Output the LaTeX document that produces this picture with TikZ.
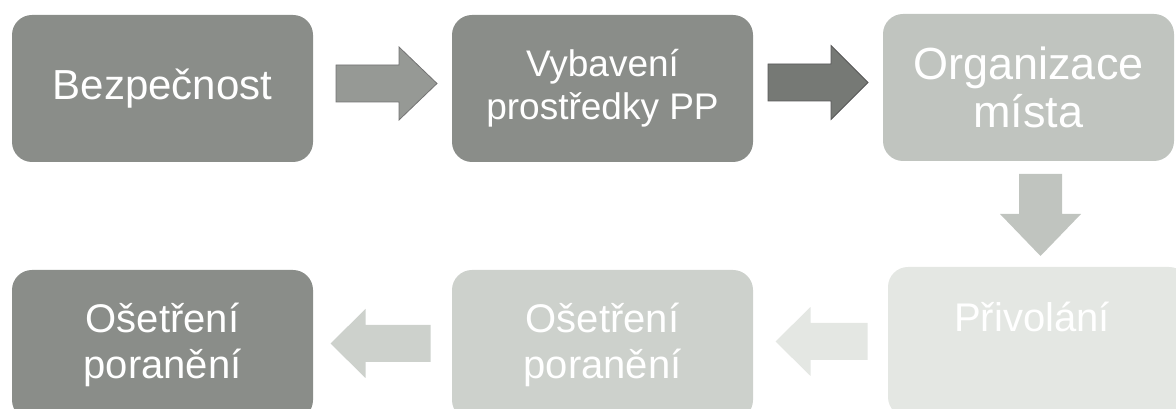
\documentclass[tikz,border=0pt]{standalone}
\usepackage{fontspec}
\setmainfont{Liberation Sans}
\usepackage{xcolor}
\usetikzlibrary{calc}

\definecolor{boxdark}{RGB}{138,141,137}
\definecolor{boxmid}{RGB}{192,196,191}
\definecolor{boxlight}{RGB}{205,209,204}
\definecolor{boxfaint}{RGB}{228,231,227}
\definecolor{arrowone}{RGB}{150,153,149}
\definecolor{arrowtwo}{RGB}{118,121,117}

\begin{document}
\begin{tikzpicture}[
        x=1pt, y=1pt,
        stepbox/.style={rounded corners=20pt, minimum width=301pt, minimum height=147pt, inner sep=0pt, text=white, align=center},
        bigtext/.style={font=\fontsize{42}{48}\selectfont},
        midtext/.style={font=\fontsize{37}{43}\selectfont},
        orgtext/.style={font=\fontsize{45}{48}\selectfont},
        lowtext/.style={font=\fontsize{40}{46}\selectfont},
        blockarrow/.style={line width=0.8pt, line join=miter}
    ]

    \clip (0,0) rectangle (1176,409);

    % ==========================================
    % top row
    % ==========================================
    \node[stepbox, bigtext, fill=boxdark] (bezp) at (162.5, 320.5) {Bezpečnost};
    \node[stepbox, midtext, fill=boxdark] (vyb) at (602.5, 320.5) {Vybavení\\prostředky PP};
    \node[stepbox, orgtext, fill=boxmid, minimum width=291pt] (org) at (1028.5, 321.5) {Organizace\\místa};

    % ==========================================
    % bottom row
    % ==========================================
    \node[stepbox, lowtext, fill=boxdark, minimum height=150pt] (oset_a) at (162.5, 64) {Ošetření\\poranění};
    \node[stepbox, lowtext, fill=boxlight, minimum height=150pt] (oset_b) at (602.5, 64) {Ošetření\\poranění};
    \node[stepbox, fill=boxfaint, minimum height=150pt] (priv) at (1038.5, 67) {};
    \node[text=white, lowtext, anchor=base, inner sep=0pt] (priv_t) at (1032, 77) {Přivolání};

    % ==========================================
    % block arrows between the boxes
    % ==========================================
    \coordinate (m_ab) at ($(bezp.east)!0.5!(vyb.west)+(4,5)$);
    \coordinate (m_bc) at ($(vyb.east)!0.5!(org.west)+(0,5.5)$);
    \coordinate (m_cd) at ($(org.south)!0.5!(priv.north)+(7,-1)$);
    \coordinate (m_de) at ($(oset_b.east)!0.5!(priv.west)+(1,2)$);
    \coordinate (m_ef) at ($(oset_a.east)!0.5!(oset_b.west)+(-2,1.5)$);

    \begin{scope}[shift={(m_ab)}]
        \filldraw[blockarrow, fill=arrowone, draw=black!55] (-50.5,-18.5) -- (12.5,-18.5) -- (12.5,-36.5) -- (50.5,0) -- (12.5,36.5) -- (12.5,18.5) -- (-50.5,18.5) -- cycle;
    \end{scope}
    \begin{scope}[shift={(m_bc)}]
        \filldraw[blockarrow, fill=arrowtwo, draw=black!65] (-50,-18.5) -- (13,-18.5) -- (13,-37) -- (50,0) -- (13,37) -- (13,18.5) -- (-50,18.5) -- cycle;
    \end{scope}
    \begin{scope}[shift={(m_cd)}, rotate=-90]
        \fill[fill=boxmid] (-41,-21.5) -- (-1,-21.5) -- (-1,-40.5) -- (41,0) -- (-1,40.5) -- (-1,21.5) -- (-41,21.5) -- cycle;
    \end{scope}
    \begin{scope}[shift={(m_de)}, rotate=180]
        \fill[fill=boxfaint] (-46,-18.5) -- (11,-18.5) -- (11,-34.5) -- (46,0) -- (11,34.5) -- (11,18.5) -- (-46,18.5) -- cycle;
    \end{scope}
    \begin{scope}[shift={(m_ef)}, rotate=180]
        \fill[fill=boxlight] (-50,-18.5) -- (15,-18.5) -- (15,-34.5) -- (50,0) -- (15,34.5) -- (15,18.5) -- (-50,18.5) -- cycle;
    \end{scope}

\end{tikzpicture}
\end{document}
